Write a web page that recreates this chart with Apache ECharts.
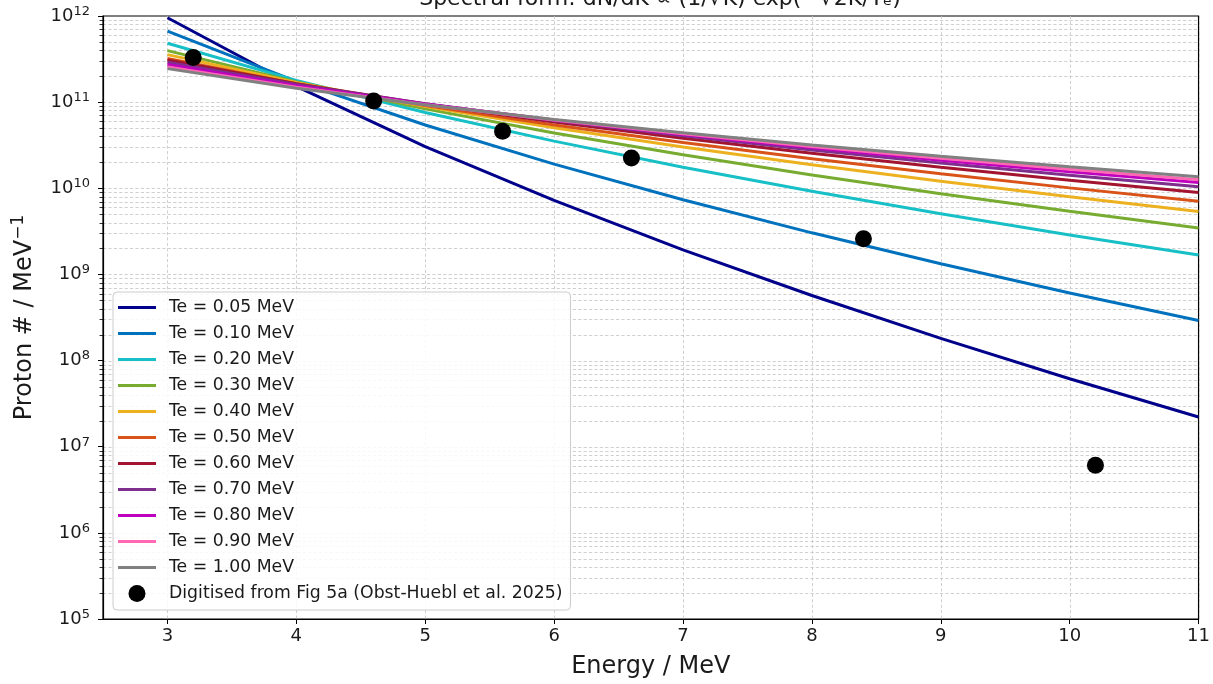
<!DOCTYPE html>
<html>
<head>
<meta charset="utf-8">
<title>Proton spectra</title>
<script src="https://cdn.jsdelivr.net/npm/echarts@6/dist/echarts.min.js"></script>
<style>
  html, body { margin: 0; padding: 0; background: #ffffff; }
  #chart { width: 1213px; height: 684px; }
</style>
</head>
<body>
<div id="chart"></div>
<script>
// Proton energy (MeV) at which each model spectrum is sampled
const energies = [3, 4, 5, 6, 7, 8, 9, 10, 11];

// Model spectra dN/dK (protons / MeV) for each electron temperature
const te005 = [9.54e11, 1.52e11, 3.05e10, 7.22e9, 1.93e9, 5.69e8, 1.81e8, 6.16e7, 2.21e7];
const te010 = [6.68e11, 1.745e11, 5.43e10, 1.91e10, 7.35e9, 3.04e9, 1.33e9, 6.10e8, 2.92e8];
const te020 = [4.83e11, 1.79e11, 7.59e10, 3.53e10, 1.756e10, 9.22e9, 5.05e9, 2.87e9, 1.68e9];
const te030 = [3.96e11, 1.72e11, 8.35e10, 4.39e10, 2.45e10, 1.43e10, 8.66e9, 5.40e9, 3.46e9];
const te040 = [3.56e11, 1.69e11, 8.92e10, 5.05e10, 3.02e10, 1.876e10, 1.205e10, 7.96e9, 5.37e9];
const te050 = [3.22e11, 1.634e11, 9.11e10, 5.43e10, 3.40e10, 2.20e10, 1.474e10, 1.011e10, 7.08e9];
const te060 = [3.08e11, 1.636e11, 9.51e10, 5.88e10, 3.80e10, 2.55e10, 1.757e10, 1.239e10, 8.91e9];
const te070 = [2.91e11, 1.60e11, 9.60e10, 6.11e10, 4.06e10, 2.79e10, 1.968e10, 1.419e10, 1.042e10];
const te080 = [2.73e11, 1.548e11, 9.53e10, 6.21e10, 4.21e10, 2.95e10, 2.12e10, 1.558e10, 1.164e10];
const te090 = [2.56e11, 1.486e11, 9.35e10, 6.21e10, 4.29e10, 3.06e10, 2.23e10, 1.662e10, 1.259e10];
const te100 = [2.45e11, 1.453e11, 9.31e10, 6.28e10, 4.41e10, 3.18e10, 2.36e10, 1.776e10, 1.361e10];

const measEnergy = [3.2, 4.6, 5.6, 6.6, 8.4, 10.2];
const measCount = [3.3e11, 1.03e11, 4.6e10, 2.25e10, 2.6e9, 6.1e6];

// Axis ticks
const xTicks = [3, 4, 5, 6, 7, 8, 9, 10, 11];
const yDecades = [5, 6, 7, 8, 9, 10, 11, 12];

const tempLabels = ['0.05', '0.10', '0.20', '0.30', '0.40', '0.50', '0.60', '0.70', '0.80', '0.90', '1.00'];
const spectra = [te005, te010, te020, te030, te040, te050, te060, te070, te080, te090, te100];
const colors = ['#00008b', '#0072bd', '#17bfc6', '#77ac30', '#edb120', '#d95319',
                '#a2142f', '#7e2f8e', '#bf00bf', '#ff69b4', '#808080'];

const X_MIN = 2.5, X_MAX = 11;
const Y_MIN = 1e5, Y_MAX = 1e12;
const GRID_COLOR = '#c4c4c4';
const TEXT_COLOR = '#1a1a1a';
const FONT = 'DejaVu Sans';

// "10^n" tick labels as rich text with a raised exponent
function powerLabel(v) {
  return '{b|10}{s|' + Math.round(Math.log10(v)) + '}';
}

// Horizontal grid levels: every 1..9 x 10^n inside the axis range
const hLevels = [];
for (let d = yDecades[0]; d < yDecades[yDecades.length - 1]; d++) {
  for (let m = 1; m <= 9; m++) {
    const v = m * Math.pow(10, d);
    if (v > Y_MIN && v < Y_MAX) hLevels.push([X_MIN, v, m === 1 ? 1 : 0]);
  }
}
const vLevels = xTicks.map(x => [x, Y_MIN]);

const dash = [3.2, 2.2];

const gridSeriesH = {
  type: 'custom',
  name: 'hgrid',
  silent: true,
  z: 0,
  clip: false,
  data: hLevels,
  renderItem: function (params, api) {
    const cs = params.coordSys;
    const y = Math.round(api.coord([X_MIN, api.value(1)])[1]) + 0.5;
    const children = [{
      type: 'line',
      shape: { x1: cs.x, y1: y, x2: cs.x + cs.width, y2: y },
      style: { stroke: GRID_COLOR, lineWidth: 0.8, lineDash: dash }
    }];
    if (!api.value(2)) {
      children.push({
        type: 'line',
        shape: { x1: cs.x - 3.5, y1: y, x2: cs.x, y2: y },
        style: { stroke: '#000', lineWidth: 0.8 }
      });
    }
    return { type: 'group', children: children };
  }
};

const gridSeriesV = {
  type: 'custom',
  name: 'vgrid',
  silent: true,
  z: 0,
  data: vLevels,
  renderItem: function (params, api) {
    const cs = params.coordSys;
    const x = Math.round(api.coord([api.value(0), Y_MIN])[0]) + 0.5;
    return {
      type: 'line',
      shape: { x1: x, y1: cs.y, x2: x, y2: cs.y + cs.height },
      style: { stroke: GRID_COLOR, lineWidth: 0.8, lineDash: dash }
    };
  }
};

const lineSeries = spectra.map((vals, i) => ({
  type: 'line',
  name: 'Te = ' + tempLabels[i] + ' MeV',
  data: energies.map((e, j) => [e, vals[j]]),
  symbol: 'none',
  showSymbol: false,
  smooth: false,
  z: 2,
  lineStyle: { color: colors[i], width: 3 },
  itemStyle: { color: colors[i] },
  emphasis: { disabled: true }
}));

const measSeries = {
  type: 'scatter',
  name: 'Digitised from Fig 5a (Obst-Huebl et al. 2025)',
  data: measEnergy.map((e, i) => [e, measCount[i]]),
  symbol: 'circle',
  symbolSize: 17,
  z: 5,
  itemStyle: { color: '#000000', opacity: 1 },
  emphasis: { disabled: true }
};

// Legend swatch for the curves: a short thick bar (kept at its aspect ratio)
const lineIcon = 'path://M0,0 H38 V3 H0 Z';

const chart = echarts.init(document.getElementById('chart'), null, { renderer: 'canvas' });

chart.setOption({
  animation: false,
  backgroundColor: '#ffffff',
  textStyle: { fontFamily: FONT, color: TEXT_COLOR },
  title: {
    text: 'Spectral form: dN/dK ∝ (1/√K)·exp(−√2K/Tₑ)',
    left: 655,
    textAlign: 'center',
    top: -17,
    textStyle: { fontFamily: FONT, fontSize: 22, fontWeight: 'normal', color: TEXT_COLOR }
  },
  grid: {
    left: 103, right: 11, top: 16, bottom: 65,
    show: true, borderColor: '#000000', borderWidth: 1.2, backgroundColor: 'transparent'
  },
  legend: {
    orient: 'vertical',
    left: 113,
    top: 292,
    padding: [7, 8, 8, 5],
    itemGap: 9,
    itemWidth: 38,
    itemHeight: 17,
    symbolKeepAspect: true,
    backgroundColor: 'rgba(255,255,255,0.85)',
    borderColor: '#cccccc',
    borderWidth: 1,
    borderRadius: 4,
    textStyle: { fontFamily: FONT, fontSize: 17.3, color: TEXT_COLOR, padding: [0, 0, 0, 8] },
    data: lineSeries.map(s => ({ name: s.name, icon: lineIcon }))
      .concat([{ name: measSeries.name, icon: 'circle' }])
  },
  xAxis: {
    type: 'value',
    min: X_MIN,
    max: X_MAX,
    name: 'Energy / MeV',
    nameLocation: 'middle',
    nameGap: 36,
    nameTextStyle: { fontFamily: FONT, fontSize: 24, color: TEXT_COLOR },
    axisLine: { show: true, onZero: false, lineStyle: { color: '#000', width: 1.2 } },
    axisTick: { show: true, customValues: xTicks, length: 5, lineStyle: { color: '#000', width: 1 } },
    axisLabel: { customValues: xTicks, fontFamily: FONT, fontSize: 18, color: TEXT_COLOR, margin: 8 },
    splitLine: { show: false }
  },
  yAxis: {
    type: 'log',
    logBase: 10,
    min: Y_MIN,
    max: Y_MAX,
    interval: 1,
    name: 'Proton # / MeV{s|−1}',
    nameLocation: 'middle',
    nameGap: 59,
    nameTextStyle: {
      fontFamily: FONT, fontSize: 24, color: TEXT_COLOR, lineHeight: 30,
      rich: { s: { fontFamily: FONT, fontSize: 17, lineHeight: 17, verticalAlign: 'top', color: TEXT_COLOR } }
    },
    axisLine: { show: true, lineStyle: { color: '#000', width: 1.2 } },
    axisTick: { show: true, length: 5, lineStyle: { color: '#000', width: 1 } },
    axisLabel: {
      fontFamily: FONT, color: TEXT_COLOR, margin: 13, formatter: powerLabel,
      rich: {
        b: { fontFamily: FONT, fontSize: 18, lineHeight: 22, color: TEXT_COLOR },
        s: { fontFamily: FONT, fontSize: 13, lineHeight: 13, verticalAlign: 'top', color: TEXT_COLOR }
      }
    },
    splitLine: { show: false },
    minorTick: { show: false },
    minorSplitLine: { show: false }
  },
  series: [gridSeriesV, gridSeriesH].concat(lineSeries, [measSeries])
});
</script>
</body>
</html>
